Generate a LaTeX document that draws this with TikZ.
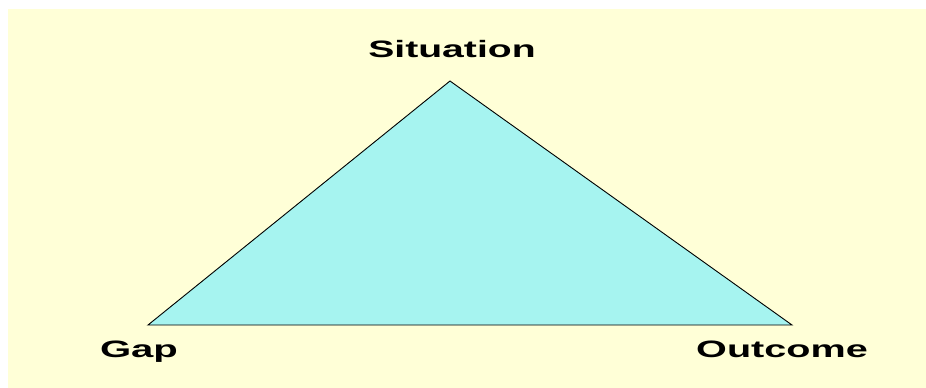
\documentclass[tikz,border=0pt]{standalone}
\usepackage{fontspec}
\setmainfont{Liberation Sans}
\usepackage{graphicx}
\definecolor{bgyellow}{RGB}{255,255,215}
\definecolor{tricyan}{RGB}{166,244,240}
\tikzset{
  lbl/.style={font=\fontsize{23.7}{26}\selectfont\bfseries, inner sep=0pt, anchor=base, text=black},
  tri/.style={draw=black, line width=0.9pt, fill=tricyan, line join=miter}
}
\begin{document}
\begin{tikzpicture}[x=1pt,y=-1pt]
  \useasboundingbox (0,0) rectangle (926,388);
  \fill[white] (0,0) rectangle (926,388);
  \fill[bgyellow] (8,9) rectangle (926,388);
  \coordinate (top) at (450,81);
  \coordinate (left) at (148,325);
  \coordinate (right) at (792,325);
  \draw[tri] (top) -- (left) -- (right) -- cycle;
  \node[lbl] (situation) at (452,57.5) {\scalebox{1.65}[1]{Situation}};
  \node[lbl] (gap) at (139,357) {\scalebox{1.69}[1]{Gap}};
  \node[lbl] (outcome) at (782,357) {\scalebox{1.67}[1]{Outcome}};
\end{tikzpicture}
\end{document}
